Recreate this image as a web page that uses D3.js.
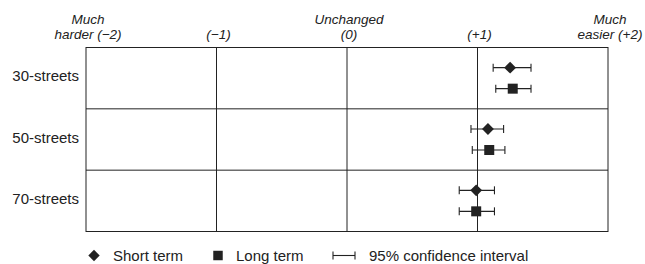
<!DOCTYPE html>
<html>
<head>
<meta charset="utf-8">
<script src="https://cdn.jsdelivr.net/npm/d3@7"></script>
<style>
  body { margin: 0; background: #fff; }
  text { font-family: "Liberation Sans", Arial, sans-serif; fill: #222; }
</style>
</head>
<body>
<svg id="chart" width="645" height="264" viewBox="0 0 645 264"></svg>
<script>
// data
const rows = ["30-streets", "50-streets", "70-streets"];
const shortTerm = [1.25, 1.08, 0.99];
const shortLow = [1.12, 0.95, 0.86];
const shortHigh = [1.41, 1.20, 1.13];
const longTerm = [1.27, 1.09, 0.99];
const longLow = [1.14, 0.96, 0.86];
const longHigh = [1.41, 1.21, 1.13];
const tickValues = [-2, -1, 0, 1, 2];
const tickTop = ["Much", "", "Unchanged", "", "Much"];
const tickBottom = ["harder (\u22122)", "(\u22121)", "(0)", "(+1)", "easier (+2)"];

const svg = d3.select("#chart");
const plotLeft = 86, plotRight = 608, plotTop = 47.5, plotBottom = 231.5;
const ink = "#222";

const x = d3.scaleLinear().domain([-2, 2]).range([plotLeft, plotRight]);
const y = d3.scaleBand().domain(rows).range([plotTop, plotBottom]);
const series = d3.scalePoint().domain(["short", "long"]).range([-10.5, 10.5]);

// frame
svg.append("rect")
    .attr("x", plotLeft).attr("y", plotTop)
    .attr("width", plotRight - plotLeft).attr("height", plotBottom - plotTop)
    .attr("fill", "none").attr("stroke", ink).attr("stroke-width", 1);

// vertical grid
svg.append("g").selectAll("line")
    .data(tickValues.slice(1, -1))
    .enter().append("line")
    .attr("x1", d => x(d)).attr("x2", d => x(d))
    .attr("y1", plotTop).attr("y2", plotBottom)
    .attr("stroke", ink).attr("stroke-width", 1);

// row dividers
svg.append("g").selectAll("line")
    .data(rows.slice(1))
    .enter().append("line")
    .attr("x1", plotLeft).attr("x2", plotRight)
    .attr("y1", d => y(d)).attr("y2", d => y(d))
    .attr("stroke", ink).attr("stroke-width", 1);

// top labels
const head = svg.append("g").attr("font-style", "italic").attr("font-size", 13.5);
head.selectAll("text.t1")
    .data(tickValues)
    .enter().append("text")
    .attr("x", d => x(d) + 2)
    .attr("y", 24)
    .attr("text-anchor", "middle")
    .text((d, i) => tickTop[i]);
head.selectAll("text.t2")
    .data(tickValues)
    .enter().append("text")
    .attr("x", d => x(d) + 2)
    .attr("y", 38.5)
    .attr("text-anchor", "middle")
    .text((d, i) => tickBottom[i]);

// row labels
svg.append("g").selectAll("text")
    .data(rows)
    .enter().append("text")
    .attr("x", 79)
    .attr("y", d => y(d) + y.bandwidth() / 2 + 3)
    .attr("text-anchor", "end")
    .attr("font-size", 15)
    .text(d => d);

// confidence intervals
const points = [];
rows.forEach((r, i) => {
    points.push({ row: r, s: "short", v: shortTerm[i], lo: shortLow[i], hi: shortHigh[i] });
    points.push({ row: r, s: "long", v: longTerm[i], lo: longLow[i], hi: longHigh[i] });
});
const cy = d => y(d.row) + y.bandwidth() / 2 + series(d.s);
const cap = 4;

const ci = svg.append("g").attr("stroke", ink).attr("stroke-width", 1.1);
ci.selectAll("line.h")
    .data(points).enter().append("line")
    .attr("x1", d => x(d.lo)).attr("x2", d => x(d.hi))
    .attr("y1", cy).attr("y2", cy);
ci.selectAll("line.lo")
    .data(points).enter().append("line")
    .attr("x1", d => x(d.lo)).attr("x2", d => x(d.lo))
    .attr("y1", d => cy(d) - cap).attr("y2", d => cy(d) + cap);
ci.selectAll("line.hi")
    .data(points).enter().append("line")
    .attr("x1", d => x(d.hi)).attr("x2", d => x(d.hi))
    .attr("y1", d => cy(d) - cap).attr("y2", d => cy(d) + cap);

// markers
const diamond = d3.symbol().type(d3.symbolDiamond2).size(90);
const square = d3.symbol().type(d3.symbolSquare).size(100);
svg.append("g").selectAll("path")
    .data(points).enter().append("path")
    .attr("transform", d => "translate(" + x(d.v) + "," + cy(d) + ")")
    .attr("d", d => d.s === "short" ? diamond() : square())
    .attr("fill", ink);

// legend
const legend = svg.append("g").attr("font-size", 15);
const ly = 255.5;
legend.append("path")
    .attr("transform", "translate(94," + ly + ")")
    .attr("d", d3.symbol().type(d3.symbolDiamond2).size(82)())
    .attr("fill", ink);
legend.append("text").attr("x", 113).attr("y", 261).text("Short term");
legend.append("path")
    .attr("transform", "translate(218," + ly + ")")
    .attr("d", d3.symbol().type(d3.symbolSquare).size(90)())
    .attr("fill", ink);
legend.append("text").attr("x", 236).attr("y", 261).text("Long term");
const lg = legend.append("g").attr("stroke", ink).attr("stroke-width", 1.1);
lg.append("line").attr("x1", 333).attr("x2", 355).attr("y1", ly).attr("y2", ly);
lg.append("line").attr("x1", 333).attr("x2", 333).attr("y1", ly - cap).attr("y2", ly + cap);
lg.append("line").attr("x1", 355).attr("x2", 355).attr("y1", ly - cap).attr("y2", ly + cap);
legend.append("text").attr("x", 369).attr("y", 261).text("95% confidence interval");
</script>
</body>
</html>
